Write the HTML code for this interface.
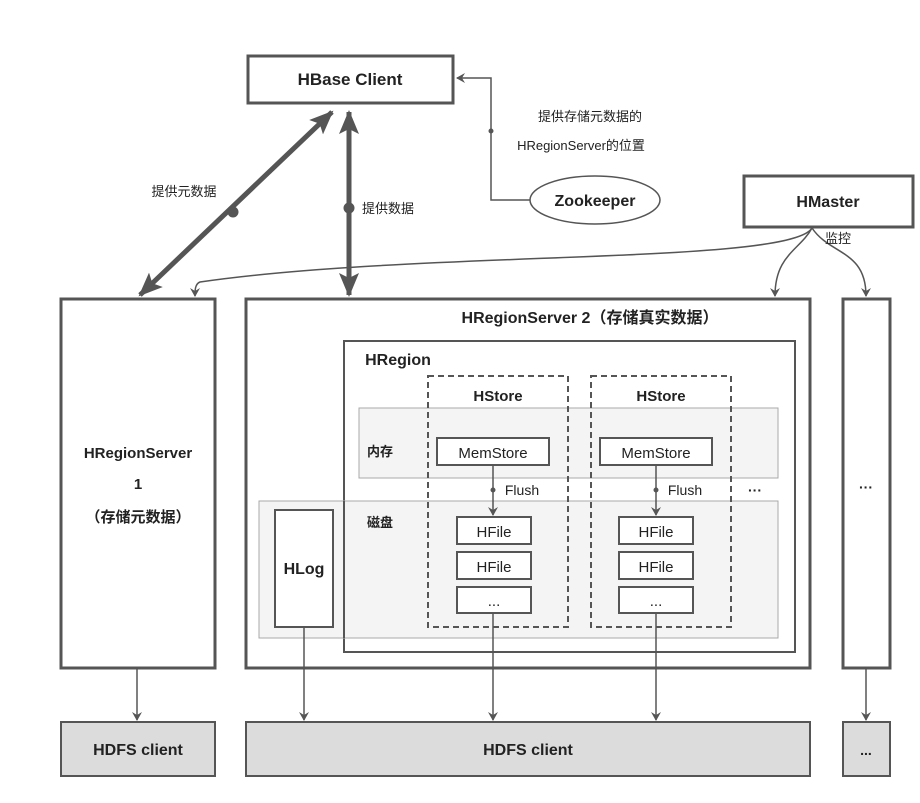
<!DOCTYPE html>
<html><head><meta charset="utf-8"><style>
body{margin:0;background:#fff;}
svg{display:block;font-family:"Liberation Sans","Noto Sans CJK SC",sans-serif;}
.b{font-weight:bold;}
</style></head><body>
<svg width="920" height="803" viewBox="0 0 920 803" xmlns="http://www.w3.org/2000/svg">
<defs>
<marker id="a" markerWidth="10" markerHeight="10" refX="8" refY="5" orient="auto" markerUnits="userSpaceOnUse"><path d="M0,0 L9,5 L0,10 L3,5 z" fill="#555"/></marker>
<marker id="big" markerWidth="26" markerHeight="26" refX="22" refY="13" orient="auto-start-reverse" markerUnits="userSpaceOnUse"><path d="M0,3 L24,13 L0,23 L5,13 z" fill="#555"/></marker>
</defs>
<g stroke="#555" fill="none">
<rect x="248" y="56" width="205" height="47" stroke-width="3" fill="#fff"/>
<ellipse cx="595" cy="200" rx="65" ry="24" stroke-width="1.5" fill="#fff"/>
<path d="M530,200 H491 V78 H457" stroke-width="1.5" marker-end="url(#a)"/>
<circle cx="491" cy="131" r="2" fill="#555"/>
<rect x="744" y="176" width="169" height="51" stroke-width="3" fill="#fff"/>
<path d="M812,228 C790,265 420,250 200,282 C195,284 195,290 195,296" stroke-width="1.5" marker-end="url(#a)"/>
<path d="M812,228 C800,250 775,255 775,296" stroke-width="1.5" marker-end="url(#a)"/>
<path d="M812,228 C830,255 866,250 866,296" stroke-width="1.5" marker-end="url(#a)"/>
<line x1="332" y1="112" x2="140" y2="295" stroke-width="5" marker-start="url(#big)" marker-end="url(#big)"/>
<line x1="349" y1="112" x2="349" y2="295" stroke-width="5" marker-start="url(#big)" marker-end="url(#big)"/>
<circle cx="233" cy="212" r="5" fill="#555"/>
<circle cx="349" cy="208" r="5" fill="#555"/>
<rect x="61" y="299" width="154" height="369" stroke-width="3" fill="#fff"/>
<rect x="246" y="299" width="564" height="369" stroke-width="3" fill="#fff"/>
<rect x="843" y="299" width="47" height="369" stroke-width="3" fill="#fff"/>
<rect x="344" y="341" width="451" height="311" stroke-width="2"/>
<rect x="359" y="408" width="419" height="70" stroke="#aaa" stroke-width="1" fill="#f4f4f4"/>
<rect x="259" y="501" width="519" height="137" stroke="#aaa" stroke-width="1" fill="#f4f4f4"/>
<line x1="344" y1="501" x2="344" y2="638" stroke-width="2"/>
<rect x="428" y="376" width="140" height="251" stroke-width="2" stroke-dasharray="6,4"/>
<rect x="591" y="376" width="140" height="251" stroke-width="2" stroke-dasharray="6,4"/>
<rect x="437" y="438" width="112" height="27" stroke-width="2" fill="#fff"/>
<rect x="600" y="438" width="112" height="27" stroke-width="2" fill="#fff"/>
<line x1="493" y1="465" x2="493" y2="515" stroke-width="1.5" marker-end="url(#a)"/>
<line x1="656" y1="465" x2="656" y2="515" stroke-width="1.5" marker-end="url(#a)"/>
<circle cx="493" cy="490" r="2" fill="#555"/><circle cx="656" cy="490" r="2" fill="#555"/>
<rect x="457" y="517" width="74" height="27" stroke-width="2" fill="#fff"/>
<rect x="457" y="552" width="74" height="27" stroke-width="2" fill="#fff"/>
<rect x="457" y="587" width="74" height="26" stroke-width="2" fill="#fff"/>
<rect x="619" y="517" width="74" height="27" stroke-width="2" fill="#fff"/>
<rect x="619" y="552" width="74" height="27" stroke-width="2" fill="#fff"/>
<rect x="619" y="587" width="74" height="26" stroke-width="2" fill="#fff"/>
<rect x="275" y="510" width="58" height="117" stroke-width="2" fill="#fff"/>
<line x1="137" y1="668" x2="137" y2="720" stroke-width="1.5" marker-end="url(#a)"/>
<line x1="304" y1="627" x2="304" y2="720" stroke-width="1.5" marker-end="url(#a)"/>
<line x1="493" y1="613" x2="493" y2="720" stroke-width="1.5" marker-end="url(#a)"/>
<line x1="656" y1="613" x2="656" y2="720" stroke-width="1.5" marker-end="url(#a)"/>
<line x1="866" y1="668" x2="866" y2="720" stroke-width="1.5" marker-end="url(#a)"/>
<rect x="61" y="722" width="154" height="54" stroke-width="2" fill="#dcdcdc"/>
<rect x="246" y="722" width="564" height="54" stroke-width="2" fill="#dcdcdc"/>
<rect x="843" y="722" width="47" height="54" stroke-width="2" fill="#dcdcdc"/>
</g>
<g fill="#222" text-anchor="middle">
<text x="350" y="85" font-size="17" class="b">HBase Client</text>
<text x="595" y="206" font-size="16" class="b">Zookeeper</text>
<text x="828" y="207" font-size="16" class="b">HMaster</text>
<text x="590" y="121" font-size="13">提供存储元数据的</text>
<text x="581" y="150" font-size="13">HRegionServer的位置</text>
<text x="184" y="196" font-size="13">提供元数据</text>
<text x="388" y="213" font-size="13">提供数据</text>
<text x="838" y="243" font-size="13">监控</text>
<text x="138" y="458" font-size="15" class="b">HRegionServer</text>
<text x="138" y="489" font-size="15" class="b">1</text>
<text x="138" y="522" font-size="15" class="b">（存储元数据）</text>
<text x="590" y="323" font-size="16" class="b">HRegionServer 2（存储真实数据）</text>
<text x="398" y="365" font-size="16" class="b">HRegion</text>
<text x="498" y="401" font-size="15" class="b">HStore</text>
<text x="661" y="401" font-size="15" class="b">HStore</text>
<text x="380" y="456" font-size="13" class="b">内存</text>
<text x="380" y="527" font-size="13" class="b">磁盘</text>
<text x="493" y="458" font-size="15">MemStore</text>
<text x="656" y="458" font-size="15">MemStore</text>
<text x="522" y="495" font-size="14">Flush</text>
<text x="685" y="495" font-size="14">Flush</text>
<text x="755" y="495" font-size="14" class="b">···</text>
<text x="866" y="492" font-size="14" class="b">···</text>
<text x="494" y="537" font-size="15">HFile</text>
<text x="494" y="572" font-size="15">HFile</text>
<text x="494" y="606" font-size="15">...</text>
<text x="656" y="537" font-size="15">HFile</text>
<text x="656" y="572" font-size="15">HFile</text>
<text x="656" y="606" font-size="15">...</text>
<text x="304" y="574" font-size="16" class="b">HLog</text>
<text x="138" y="755" font-size="16" class="b">HDFS client</text>
<text x="528" y="755" font-size="16" class="b">HDFS client</text>
<text x="866" y="755" font-size="14" class="b">...</text>
</g>
</svg>
</body></html>
